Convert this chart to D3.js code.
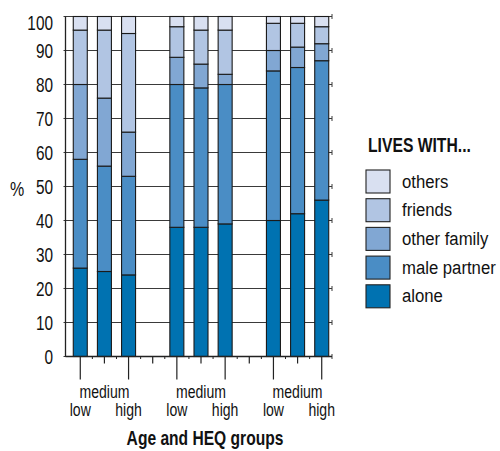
<!DOCTYPE html>
<html>
<head>
<meta charset="utf-8">
<script src="https://cdn.jsdelivr.net/npm/d3@7"></script>
<style>
  html, body { margin: 0; padding: 0; background: #fff; }
  svg { display: block; }
  text { font-family: "Liberation Sans", Arial, sans-serif; fill: #111; }
</style>
</head>
<body>
<svg id="chart" width="500" height="451"></svg>
<script>
// ---- data ----
const groups = ["g1", "g2", "g3"];
const levels = ["low", "medium", "high"];
const seriesNames = ["alone", "male partner", "other family", "friends", "others"];
// values per bar, in order g1-low, g1-medium, g1-high, g2-low, ...
const alone        = [26, 25, 24, 38, 38, 39, 40, 42, 46];
const malePartner  = [32, 31, 29, 42, 41, 41, 44, 43, 41];
const otherFamily  = [22, 20, 13,  8,  7,  3,  6,  6,  5];
const friends      = [16, 20, 29,  9, 10, 13,  8,  7,  5];
const others       = [ 4,  4,  5,  3,  4,  4,  2,  2,  3];
const yTicks = [0, 10, 20, 30, 40, 50, 60, 70, 80, 90, 100];
const colors = ["#0072b1", "#4a8dc5", "#81a7d3", "#b1c5e3", "#d9e0f1"];
const legendTitle = "LIVES WITH...";
const xTitle = "Age and HEQ groups";
const yTitle = "%";

// ---- build table ----
const seriesValues = [alone, malePartner, otherFamily, friends, others];
const bars = [];
groups.forEach((g, gi) => levels.forEach((l, li) => {
  const idx = gi * 3 + li;
  const row = { key: g + "-" + l, group: g, level: l };
  seriesNames.forEach((s, si) => row[s] = seriesValues[si][idx]);
  bars.push(row);
}));
const slots = [];
groups.forEach((g, gi) => {
  levels.forEach(l => slots.push(g + "-" + l));
  if (gi < groups.length - 1) slots.push("gap" + gi);
});

const svg = d3.select("#chart");
const plotLeft = 65.5, plotRight = 332, plotTop = 16.5, plotBottom = 356.5;

const x = d3.scaleBand().domain(slots).range([68.2, 333.8]).padding(0);
const y = d3.scaleLinear().domain([0, 100]).range([plotBottom, plotTop]);
const barW = 14;
const cx = k => x(k) + x.bandwidth() / 2;

// condensed text helper
function ctext(sel, px, py, sx) {
  return sel.attr("transform", (d, i) => `translate(${typeof px === "function" ? px(d, i) : px},${typeof py === "function" ? py(d, i) : py}) scale(${sx},1)`);
}

// gridlines
const grid = svg.append("g");
grid.selectAll("line.grid").data(yTicks).join("line")
  .attr("x1", plotLeft - 2).attr("x2", plotRight)
  .attr("y1", d => y(d)).attr("y2", d => y(d))
  .attr("stroke", "#3a3a3a").attr("stroke-width", 1.2);
grid.selectAll("line.rt").data(yTicks).join("line")
  .attr("x1", plotRight).attr("x2", plotRight)
  .attr("y1", d => y(d) - 2.5).attr("y2", d => y(d) + 2.5)
  .attr("stroke", "#3a3a3a").attr("stroke-width", 1);

// stacked bars
const stack = d3.stack().keys(seriesNames)(bars);
const color = d3.scaleOrdinal().domain(seriesNames).range(colors);
svg.append("g").selectAll("g").data(stack).join("g")
  .attr("fill", d => color(d.key))
  .selectAll("rect").data(d => d).join("rect")
  .attr("x", d => cx(d.data.key) - barW / 2)
  .attr("width", barW)
  .attr("y", d => y(d[1]))
  .attr("height", d => y(d[0]) - y(d[1]))
  .attr("stroke", "#1a1a1a").attr("stroke-width", 1.1);

// axis lines
svg.append("line").attr("x1", plotLeft).attr("x2", plotLeft)
  .attr("y1", plotTop).attr("y2", plotBottom)
  .attr("stroke", "#222").attr("stroke-width", 1.3);
svg.append("line").attr("x1", plotLeft).attr("x2", plotRight)
  .attr("y1", plotBottom).attr("y2", plotBottom)
  .attr("stroke", "#222").attr("stroke-width", 1.3);

// y tick labels
ctext(svg.append("g").selectAll("text").data(yTicks).join("text"),
      53, d => y(d) + (d === 100 ? 6 : 0), 0.75)
  .attr("dy", "0.36em").attr("text-anchor", "end")
  .attr("font-size", 20.5).text(d => d);
ctext(svg.append("text"), 10, y(50) + 2, 0.8)
  .attr("dy", "0.36em").attr("font-size", 20).text(yTitle);

// x ticks
const xAxisG = svg.append("g");
xAxisG.selectAll("line.xt").data(slots).join("line")
  .attr("x1", d => cx(d)).attr("x2", d => cx(d))
  .attr("y1", plotBottom)
  .attr("y2", d => (d.endsWith("low") || d.endsWith("high")) ? plotBottom + 23 : plotBottom + 7)
  .attr("stroke", "#222").attr("stroke-width", 1.2);
const bounds = slots.slice(1).map(s => x(s));
xAxisG.selectAll("line.mt").data(bounds).join("line")
  .attr("x1", d => d).attr("x2", d => d)
  .attr("y1", plotBottom).attr("y2", plotBottom + 2.5)
  .attr("stroke", "#222").attr("stroke-width", 1);
ctext(xAxisG.selectAll("text").data(bars).join("text"),
      d => cx(d.key), d => d.level === "medium" ? 397.5 : 415.5, 0.74)
  .attr("text-anchor", "middle").attr("font-size", 19)
  .text(d => d.level);
ctext(svg.append("text"), 205, 445, 0.78)
  .attr("text-anchor", "middle")
  .attr("font-size", 20).attr("font-weight", "bold").text(xTitle);

// legend
const leg = svg.append("g");
ctext(leg.append("text"), 368, 152, 0.785).attr("font-size", 20)
  .attr("font-weight", "bold").text(legendTitle);
const legOrder = seriesNames.slice().reverse();
const li = leg.selectAll("g.item").data(legOrder).join("g")
  .attr("transform", (d, i) => `translate(366, ${170 + i * 28.7})`);
li.append("rect").attr("width", 24).attr("height", 23)
  .attr("fill", d => color(d)).attr("stroke", "#222").attr("stroke-width", 1.1);
ctext(li.append("text"), 36, 17.5, 0.88).attr("font-size", 19).text(d => d);
</script>
</body>
</html>
